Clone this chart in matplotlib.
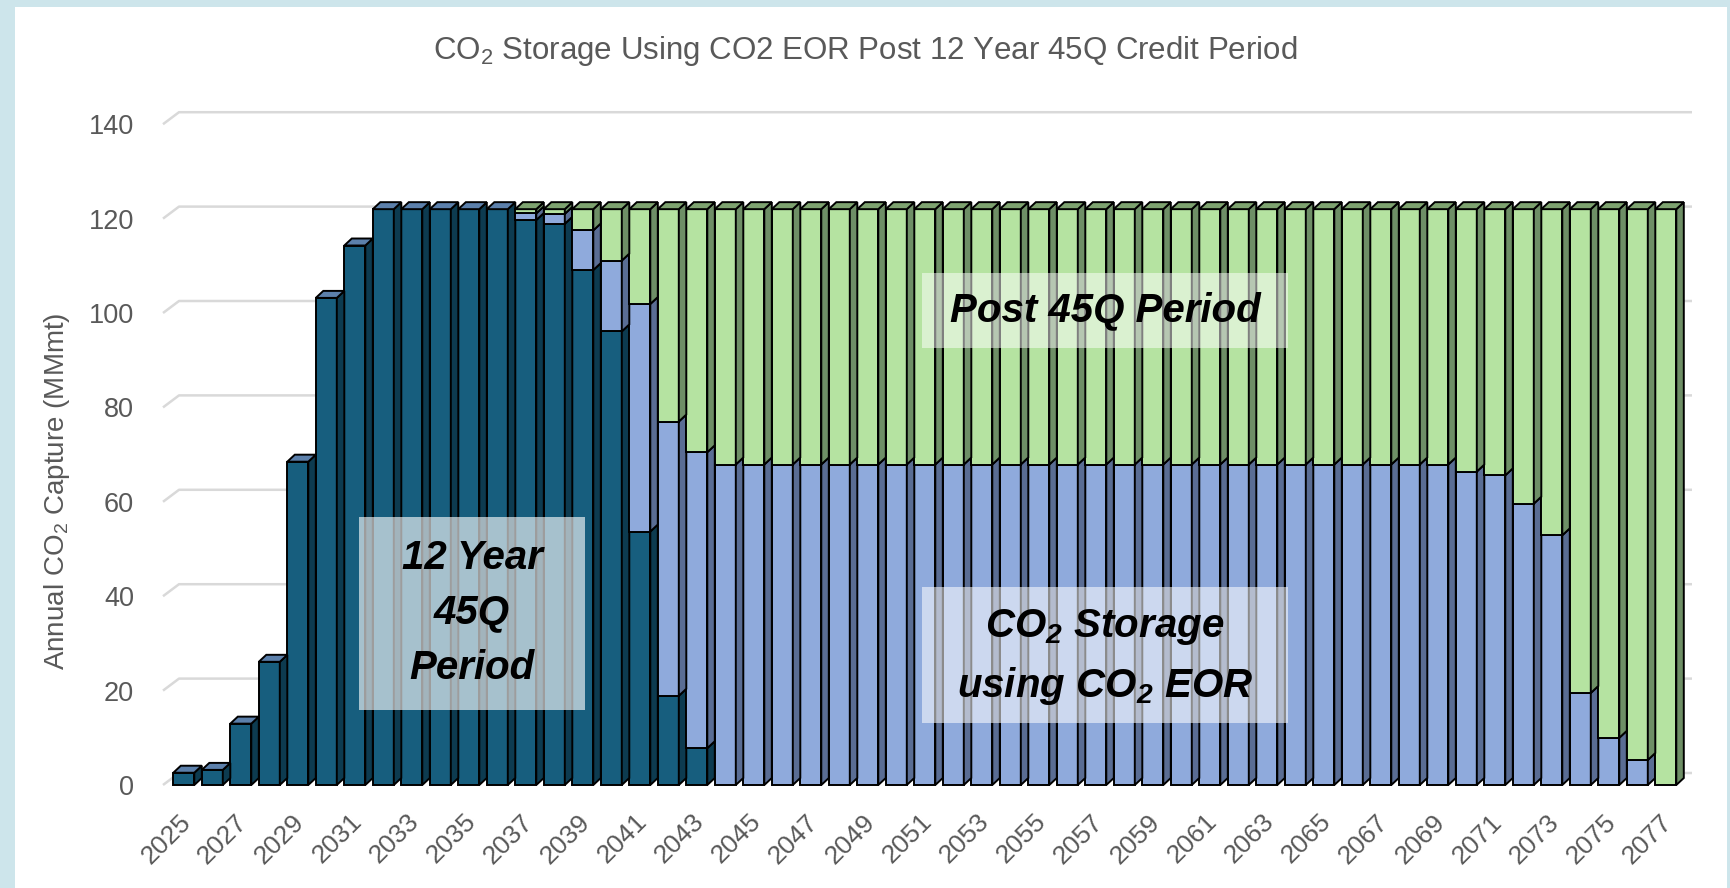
import matplotlib
matplotlib.use('Agg')
from matplotlib import pyplot as plt
from matplotlib.patches import Polygon, Rectangle
import numpy as np

# Annual CO2 capture (MMmt)
years = list(range(2025, 2078))

period_45q = [2.6, 3.2, 13.0, 26.1, 68.5, 103.2, 114.3, 122.0, 122.0, 122.0,
              122.0, 122.0, 119.7, 118.9, 109.1, 96.1, 53.7, 18.9, 7.8, 0,
              0, 0, 0, 0, 0, 0, 0, 0, 0, 0,
              0, 0, 0, 0, 0, 0, 0, 0, 0, 0,
              0, 0, 0, 0, 0, 0, 0, 0, 0, 0,
              0, 0, 0]

eor_storage = [0, 0, 0, 0, 0, 0, 0, 0, 0, 0,
               0, 0, 1.4, 2.1, 8.4, 15.0, 48.2, 58.1, 62.7, 67.9,
               67.9, 67.9, 67.9, 67.9, 67.9, 67.9, 67.9, 67.9, 67.9, 67.9,
               67.9, 67.9, 67.9, 67.9, 67.9, 67.9, 67.9, 67.9, 67.9, 67.9,
               67.9, 67.9, 67.9, 67.9, 67.9, 66.4, 65.6, 59.6, 52.9, 19.5,
               10.0, 5.3, 0]

post_45q = [0, 0, 0, 0, 0, 0, 0, 0, 0, 0,
            0, 0, 0.9, 1.0, 4.5, 10.9, 20.1, 45.0, 51.5, 54.1,
            54.1, 54.1, 54.1, 54.1, 54.1, 54.1, 54.1, 54.1, 54.1, 54.1,
            54.1, 54.1, 54.1, 54.1, 54.1, 54.1, 54.1, 54.1, 54.1, 54.1,
            54.1, 54.1, 54.1, 54.1, 54.1, 55.6, 56.4, 62.4, 69.1, 102.5,
            112.0, 116.7, 122.0]

yticks = [0, 20, 40, 60, 80, 100, 120, 140]

# Settings
plt.rcParams['font.family'] = 'Liberation Sans'
grey = '#595959'
W, H = 1731, 888

fig = plt.figure(figsize=(W / 100, H / 100), dpi=100)
fig.patch.set_facecolor('#cde5eb')
fig.add_artist(Rectangle((15 / W, 0), (1727 - 15) / W, (H - 7) / H, transform=fig.transFigure,
                         facecolor='white', edgecolor='none', zorder=-1))

# axes placed in pixels, then data limits chosen so one category = one bar pitch
ax_l, ax_r, ax_t, ax_b = 150, 1705, 100, 800
ax = fig.add_axes([ax_l / W, (H - ax_b) / H, (ax_r - ax_l) / W, (ax_b - ax_t) / H])
ax.patch.set_alpha(0)
pitch, x0_px, zero_px, ppu = 28.5, 173.3, 785, 4.72
ax.set_xlim((ax_l - x0_px) / pitch, (ax_r - x0_px) / pitch)
ax.set_ylim((zero_px - ax_b) / ppu, (zero_px - ax_t) / ppu)
for s in ax.spines.values():
    s.set_visible(False)

# 3D look: bar front width, side depth
w = 21 / pitch
dx = 1 - w
dy = 7 / ppu

# back wall gridlines with the little side-wall stub
gx0, gdx, gx1, gdy = (163 - x0_px) / pitch, 16 / pitch, (1692 - x0_px) / pitch, 12 / ppu
for v in yticks:
    ax.plot([gx0, gx0 + gdx, gx1], [v, v + gdy, v + gdy], color='#d9d9d9', lw=1.8,
            zorder=1, solid_capstyle='butt')

x = np.arange(len(years), dtype=float)
series = [
    (period_45q, '#175e7e', '#0d3b50', '#5c80ab'),
    (eor_storage, '#8faadc', '#5a6d94', '#7890bf'),
    (post_45q, '#b5e3a1', '#6e8f66', '#7ea370'),
]
bottom = np.zeros(len(years))
top_col = [None] * len(years)
for vals, front, side, top in series:
    vals = np.array(vals, dtype=float)
    m = vals > 0
    ax.bar(x[m], vals[m], width=w, bottom=bottom[m], align='edge', color=front,
           edgecolor='black', linewidth=1.4, zorder=3)
    for i in np.where(m)[0]:
        y0, y1 = bottom[i], bottom[i] + vals[i]
        ax.add_patch(Polygon([(x[i] + w, y0), (x[i] + w + dx, y0 + dy), (x[i] + w + dx, y1 + dy),
                              (x[i] + w, y1)], closed=True, facecolor=side, edgecolor='black',
                             linewidth=1.4, zorder=3))
        top_col[i] = top
    bottom += vals

for i in range(len(years)):
    t = bottom[i]
    ax.add_patch(Polygon([(x[i], t), (x[i] + w, t), (x[i] + w + dx, t + dy), (x[i] + dx, t + dy)],
                         closed=True, facecolor=top_col[i], edgecolor='black', linewidth=1.4, zorder=3))

# ticks
ax.set_yticks(yticks)
ax.set_yticklabels([str(v) for v in yticks], fontsize=19.5, color=grey)
ax.tick_params(axis='y', length=0, pad=11.5)
ax.set_xticks(x[::2] + w / 2 + 3 / pitch)
ax.set_xticklabels([str(y) for y in years[::2]], fontsize=19, color=grey, rotation=45,
                   ha='right', va='center', rotation_mode='anchor')
ax.tick_params(axis='x', length=0, pad=13)

ax.set_ylabel(r'Annual CO$\mathregular{_2}$ Capture (MMmt)', fontsize=20, color=grey, va='center')
ax.yaxis.set_label_coords((57 - ax_l) / (ax_r - ax_l), (ax_b - 491) / (ax_b - ax_t))

fig.text(865 / W, 1 - 51 / H, r'CO$\mathregular{_2}$ Storage Using CO2 EOR Post 12 Year 45Q Credit Period',
         ha='center', va='center', fontsize=22.5, color=grey)

# shaded label boxes
def px_x(p):
    return (p - x0_px) / pitch

def px_y(p):
    return (zero_px - p) / ppu

boxes = [(359, 585, 517, 710, 0.62), (922, 1288, 273, 348, 0.5), (922, 1288, 587, 723, 0.55)]
for bl, br, bt, bb, a in boxes:
    ax.add_patch(Rectangle((px_x(bl), px_y(bb)), px_x(br) - px_x(bl), px_y(bt) - px_y(bb),
                           facecolor='white', edgecolor='none', alpha=a, zorder=5))

lbl = dict(ha='center', va='center', fontsize=29, fontweight='bold', fontstyle='italic',
           color='black', zorder=6)
ax.text(px_x(472), px_y(613), '12 Year\n45Q\nPeriod', linespacing=1.55, **lbl)
ax.text(px_x(1105), px_y(311), 'Post 45Q Period', **lbl)
ax.text(px_x(1105), px_y(657), 'CO$\\mathregular{_2}$ Storage\nusing CO$\\mathregular{_2}$ EOR',
        linespacing=1.55, **lbl)

plt.savefig('out.png', dpi=100, facecolor=fig.get_facecolor())
